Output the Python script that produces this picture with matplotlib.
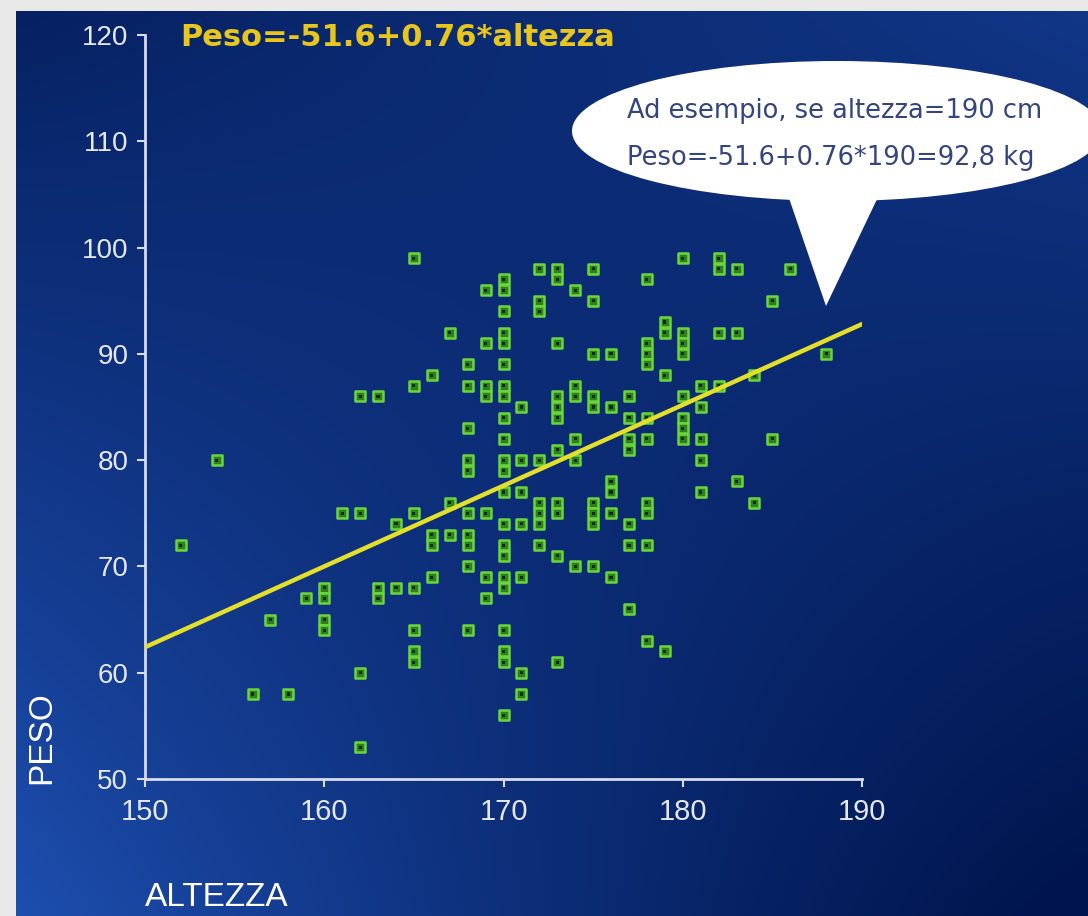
import numpy as np
import matplotlib
matplotlib.use("Agg")
import matplotlib.pyplot as plt
from matplotlib import font_manager
from matplotlib.patches import Ellipse, Polygon

# ---- data: height (cm) -> list of weights (kg) observed at that height ----
altezza_cm = [152, 154, 156, 157, 158, 159, 160, 161, 162, 163, 164, 165, 166, 167,
              168, 169, 170, 171, 172, 173, 174, 175, 176, 177, 178, 179, 180, 181,
              182, 183, 184, 185, 186, 188]
peso_kg = [
    [72],
    [80],
    [58],
    [65],
    [58],
    [67],
    [68, 67, 65, 64],
    [75],
    [86, 75, 60, 53],
    [86, 68, 67],
    [74, 68],
    [99, 87, 75, 68, 64, 62, 61],
    [88, 73, 72, 69],
    [92, 76, 73],
    [89, 87, 83, 80, 79, 75, 73, 72, 70, 64],
    [96, 91, 87, 86, 75, 69, 67],
    [97, 96, 94, 92, 91, 89, 87, 86, 84, 82, 80, 79, 77, 74, 72, 71, 69, 68, 64, 62, 61, 56],
    [85, 80, 77, 74, 69, 60, 58],
    [98, 95, 94, 80, 76, 75, 74, 72],
    [98, 97, 91, 86, 85, 84, 81, 76, 75, 71, 61],
    [96, 87, 86, 82, 80, 70],
    [98, 95, 90, 86, 85, 76, 75, 74, 70],
    [90, 85, 78, 77, 75, 69],
    [86, 84, 82, 81, 74, 72, 66],
    [97, 91, 90, 89, 84, 82, 76, 75, 72, 63],
    [93, 92, 88, 62],
    [99, 92, 91, 90, 86, 84, 83, 82],
    [87, 85, 82, 80, 77],
    [99, 98, 92, 87],
    [98, 92, 78],
    [88, 76],
    [95, 82],
    [98],
    [90],
]

intercetta = -51.6
pendenza = 0.76
x_ticks = [150, 160, 170, 180, 190]
y_ticks = [50, 60, 70, 80, 90, 100, 110, 120]
titolo = "Peso=-51.6+0.76*altezza"
nota_righe = ["Ad esempio, se altezza=190 cm", "Peso=-51.6+0.76*190=92,8 kg"]


def pick_font(*names):
    available = {f.name for f in font_manager.fontManager.ttflist}
    for n in names:
        if n in available:
            return n
    return "DejaVu Sans"


narrow = pick_font("Liberation Sans Narrow", "Liberation Sans")
sans = pick_font("Liberation Sans", "DejaVu Sans")

W, H = 1088, 916
fig = plt.figure(figsize=(W / 100, H / 100), dpi=100, facecolor="#e9e9e9")

# ---- slide background with blue gradient ----
left_px, top_px = 16, 11
bg = fig.add_axes([left_px / W, 0, 1 - left_px / W, 1 - top_px / H])
bg.set_axis_off()
gx, gy = np.meshgrid(np.linspace(0, 1, 400), np.linspace(0, 1, 400))  # gy: 0 top, 1 bottom
v = 0.18 + 0.68 * gy * (1 - gx) ** 1.3 + 0.32 * (1 - gy) * gx - 0.2 * gy * gx
v = np.clip(v, 0, 1)
dark = np.array([0x00, 0x15, 0x4e]) / 255
light = np.array([0x22, 0x58, 0xbf]) / 255
img = dark + (light - dark) * v[..., None]
bg.imshow(img, extent=[0, 1, 0, 1], aspect="auto", origin="upper")
bg.set_xlim(0, 1)
bg.set_ylim(0, 1)

# ---- scatter axes ----
ax = fig.add_axes([145 / W, 1 - 779 / H, (862 - 145) / W, (779 - 35) / H])
ax.patch.set_alpha(0)
ax.set_xlim(150, 190)
ax.set_ylim(50, 120)

xs = np.concatenate([[a] * len(p) for a, p in zip(altezza_cm, peso_kg)])
ys = np.concatenate(peso_kg)

ax.scatter(xs, ys, marker="s", s=58, facecolor="#2f7f22", edgecolor="#6ad63c",
           linewidths=1.8, zorder=3, clip_on=False)
ax.scatter(xs, ys, marker="s", s=5, facecolor="#0c2a12", edgecolor="none",
           zorder=4, clip_on=False)

xl = np.array([150, 190])
ax.plot(xl, intercetta + pendenza * xl, color="#e4e02a", lw=3.2, zorder=5,
        solid_capstyle="round")

for side in ["top", "right"]:
    ax.spines[side].set_visible(False)
for side in ["left", "bottom"]:
    ax.spines[side].set_color("#d8dce8")
    ax.spines[side].set_linewidth(2)

ax.set_xticks(x_ticks)
ax.set_yticks(y_ticks)
ax.tick_params(axis="both", colors="#d8dce8", length=6, width=1.5, direction="out")
ax.tick_params(axis="x", pad=8, labelsize=21, labelcolor="#e6e8f0")
ax.tick_params(axis="y", pad=6, labelsize=20, labelcolor="#e6e8f0")
for lab in ax.get_xticklabels() + ax.get_yticklabels():
    lab.set_fontfamily(narrow)

# ---- axis titles ----
fig.text(42 / W, 1 - 738 / H, "PESO", rotation=90, color="white", fontsize=24,
         family=sans, ha="center", va="center")
fig.text(145 / W, 1 - 898 / H, "ALTEZZA", color="white", fontsize=24,
         family=sans, ha="left", va="center")

# ---- equation ----
fig.text(180 / W, 1 - 38 / H, titolo, color="#e8c61c", fontsize=22,
         fontweight="bold", family="DejaVu Sans", ha="left", va="center")

# ---- callout bubble ----
ov = fig.add_axes([0, 0, 1, 1])
ov.set_axis_off()
ov.set_xlim(0, W)
ov.set_ylim(H, 0)
ov.patch.set_alpha(0)
ov.add_patch(Polygon([[780, 172], [890, 172], [826, 306]], closed=True,
                     facecolor="white", edgecolor="none", zorder=1))
ov.add_patch(Ellipse((837, 131), 530, 140, facecolor="white", edgecolor="none", zorder=2))
ov.text(627, 111, nota_righe[0], color="#33457e", fontsize=18.5, family="DejaVu Sans",
        ha="left", va="center", zorder=3)
ov.text(627, 158, nota_righe[1], color="#33457e", fontsize=18.5, family="DejaVu Sans",
        ha="left", va="center", zorder=3)

fig.savefig("out.png", dpi=100, facecolor=fig.get_facecolor())
